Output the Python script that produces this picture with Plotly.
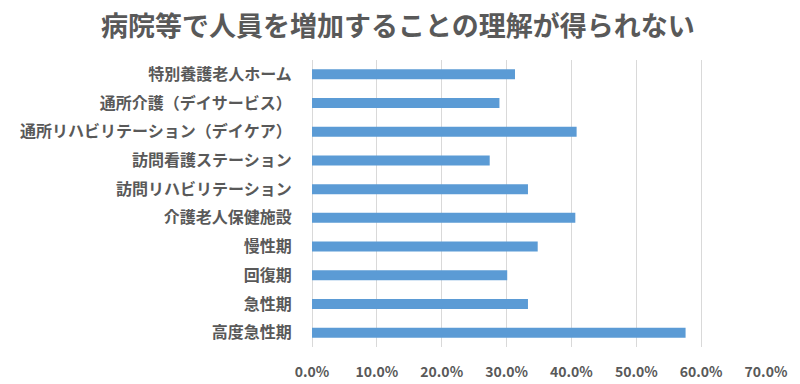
import plotly.graph_objects as go

categories = ["特別養護老人ホーム", "通所介護（デイサービス）", "通所リハビリテーション（デイケア）",
              "訪問看護ステーション", "訪問リハビリテーション", "介護老人保健施設",
              "慢性期", "回復期", "急性期", "高度急性期"]
values = [0.313, 0.289, 0.408, 0.274, 0.333, 0.406, 0.348, 0.301, 0.333, 0.576]
tick_vals = [0, 0.1, 0.2, 0.3, 0.4, 0.5, 0.6, 0.7]
tick_text = ["0.0%", "10.0%", "20.0%", "30.0%", "40.0%", "50.0%", "60.0%", "70.0%"]
title = "病院等で人員を増加することの理解が得られない"

font = "Noto Sans CJK JP"
gray = "#595959"

fig = go.Figure(go.Bar(
    x=values, y=categories, orientation="h",
    marker=dict(color="#5b9bd5", line=dict(width=0)),
))
fig.update_layout(
    width=792, height=376,
    margin=dict(l=304, r=34, t=52, b=37),
    paper_bgcolor="white", plot_bgcolor="white",
    bargap=0.65,
    showlegend=False,
    title=dict(text=title, x=0.4924, xanchor="center", y=0.952, yanchor="middle",
               font=dict(family=font, size=27, color=gray, weight="bold")),
    font=dict(family=font, color=gray),
)
fig.update_xaxes(range=[0, 0.7], tickvals=tick_vals, ticktext=tick_text, automargin=False,
                 showgrid=True, gridcolor="#d9d9d9", gridwidth=1,
                 zeroline=True, zerolinecolor="#d9d9d9", zerolinewidth=1,
                 showline=False, ticks="outside", ticklen=12, tickcolor="rgba(0,0,0,0)",
                 tickfont=dict(family=font, size=14, color=gray, weight="bold"))
fig.update_yaxes(categoryorder="array", categoryarray=categories[::-1], automargin=False,
                 showgrid=False, showline=False,
                 ticks="outside", ticklen=16, tickcolor="rgba(0,0,0,0)",
                 tickfont=dict(family=font, size=16, color=gray, weight="bold"))
fig.write_html("out.html")
